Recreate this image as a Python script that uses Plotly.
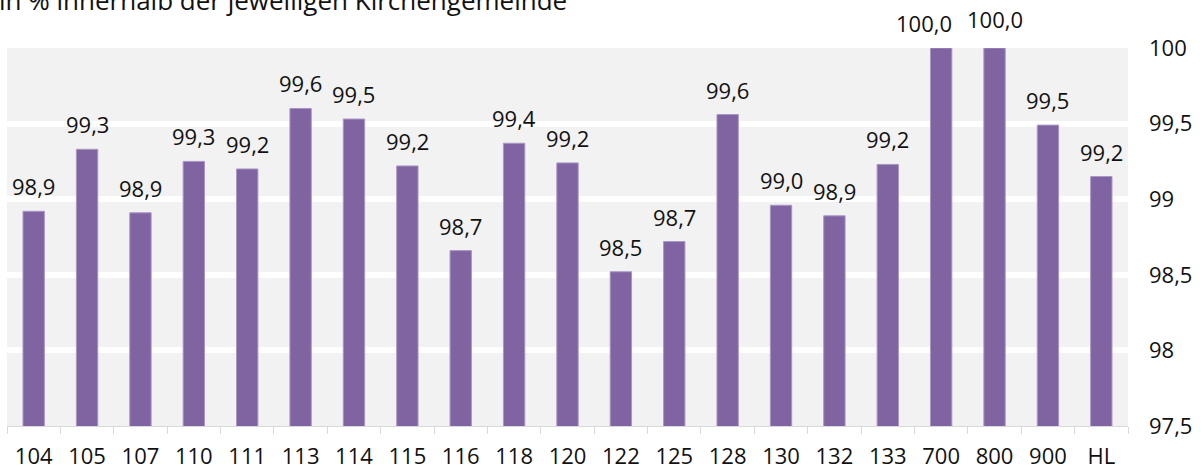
import plotly.graph_objects as go

categories = ["104", "105", "107", "110", "111", "113", "114", "115", "116", "118",
              "120", "122", "125", "128", "130", "132", "133", "700", "800", "900", "HL"]
values = [98.92, 99.33, 98.91, 99.25, 99.20, 99.60, 99.53, 99.22, 98.66, 99.37,
          99.24, 98.52, 98.72, 99.56, 98.96, 98.89, 99.23, 100.0, 100.0, 99.49, 99.15]
labels = ["98,9", "99,3", "98,9", "99,3", "99,2", "99,6", "99,5", "99,2", "98,7", "99,4",
          "99,2", "98,5", "98,7", "99,6", "99,0", "98,9", "99,2", "100,0", "100,0", "99,5", "99,2"]
title_text = "in % innerhalb der jeweiligen Kirchengemeinde"

FONT = "Open Sans"
TXT = "#111111"
FS = 22

# label nudges (pixels) to avoid overlap, as in the original
label_shift = {"700": (-17, 0), "800": (0, 4)}

idx = list(range(len(categories)))

fig = go.Figure()
fig.add_trace(go.Bar(
    x=idx, y=values,
    marker=dict(color="#8064a2", line=dict(color="#a996c4", width=1)),
    width=0.4,
    hoverinfo="skip",
))

annotations = []
for i, c, v, t in zip(idx, categories, values, labels):
    dx, dy = label_shift.get(c, (0, 0))
    annotations.append(dict(
        x=i, y=v, xref="x", yref="y", text=t, showarrow=False,
        yanchor="bottom", yshift=8 + dy, xshift=dx,
        font=dict(family=FONT, size=FS, color=TXT),
    ))
annotations.append(dict(
    x=0, y=1, xref="paper", yref="paper", text=title_text, showarrow=False,
    xanchor="left", yanchor="bottom", xshift=-10, yshift=28,
    font=dict(family=FONT, size=26, color=TXT),
))

fig.update_layout(
    width=1201, height=470,
    margin=dict(l=7, r=73, t=48, b=44),
    paper_bgcolor="white",
    plot_bgcolor="#f2f2f2",
    separators=",.",
    showlegend=False,
    annotations=annotations,
    font=dict(family=FONT, size=FS, color=TXT),
    xaxis=dict(
        type="linear", automargin=False,
        range=[-0.5, len(categories) - 0.5],
        tickmode="array", tickvals=idx, ticktext=categories,
        showline=True, linecolor="#d9d9d9", linewidth=1,
        ticks="", showgrid=False, zeroline=False,
        minor=dict(tickmode="array", tickvals=[i - 0.5 for i in idx] + [len(categories) - 0.5],
                   ticks="outside", ticklen=7, tickcolor="#d9d9d9", showgrid=False),
        ticklabelstandoff=11,
        tickfont=dict(family=FONT, size=FS, color=TXT),
    ),
    yaxis=dict(
        side="right", automargin=False,
        range=[97.5, 100], dtick=0.5, tick0=97.5,
        showgrid=True, gridcolor="white", gridwidth=6,
        zeroline=False, showline=False, ticks="",
        ticklabelstandoff=20,
        tickfont=dict(family=FONT, size=FS, color=TXT),
    ),
)
fig.update_traces(cliponaxis=False)

fig.write_html("out.html", config={"displayModeBar": False},
               post_script="document.body.style.margin='0';")
